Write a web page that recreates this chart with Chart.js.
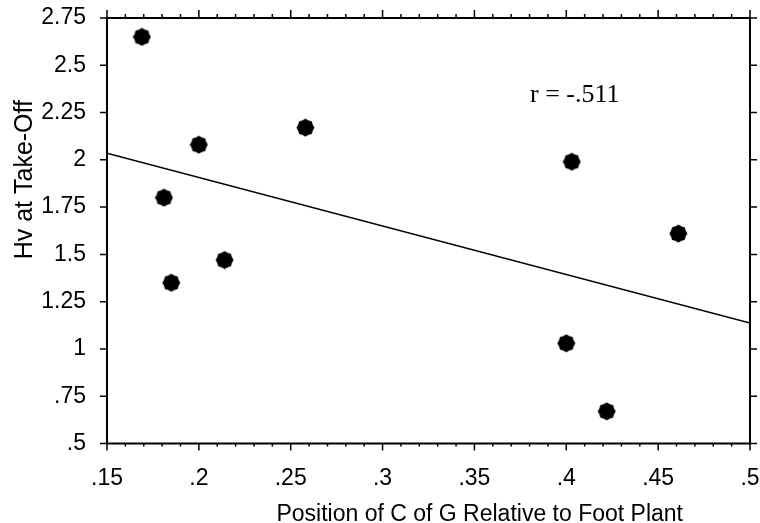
<!DOCTYPE html>
<html>
<head>
<meta charset="utf-8">
<script src="https://cdn.jsdelivr.net/npm/chart.js@4/dist/chart.umd.min.js"></script>
<style>
  html, body { margin: 0; padding: 0; background: #fff; }
  #wrap { width: 760px; height: 523px; }
</style>
</head>
<body>
<div id="wrap"><canvas id="chart" width="760" height="523"></canvas></div>
<script>
// position of C of G at foot plant vs horizontal velocity at take-off
var cogPosition = [.169, .181, .200, .258, .185, .214, .403, .461, .400, .422];
var hvTakeOff   = [2.65, 1.80, 2.08, 2.17, 1.35, 1.47, 1.99, 1.61, 1.03, .67];

// regression line end points
var fitX = [.15, .5];
var fitY = [2.035, 1.137];

var xTicks = [.15, .2, .25, .3, .35, .4, .45, .5];
var xTickLabels = ['.15', '.2', '.25', '.3', '.35', '.4', '.45', '.5'];
var yTicks = [.5, .75, 1, 1.25, 1.5, 1.75, 2, 2.25, 2.5, 2.75];
var yTickLabels = ['.5', '.75', '1', '1.25', '1.5', '1.75', '2', '2.25', '2.5', '2.75'];

var xTitle = 'Position of C of G Relative to Foot Plant';
var yTitle = 'Hv at Take-Off';
var rLabel = 'r = -.511';

const SANS = '"Liberation Sans", Arial, sans-serif';
const SERIF = '"Liberation Serif", "Times New Roman", serif';

// little cog shaped marker
function makeBlob() {
  var c = document.createElement('canvas');
  c.width = 19; c.height = 19;
  var g = c.getContext('2d');
  g.fillStyle = '#000';
  g.beginPath();
  for (var i = 0; i < 16; i++) {
    var a = i * Math.PI / 8;
    var r = i % 2 ? 7.9 : 9;
    var px = 9.5 + r * Math.cos(a), py = 9.5 + r * Math.sin(a);
    if (i === 0) g.moveTo(px, py); else g.lineTo(px, py);
  }
  g.closePath();
  g.fill();
  return c;
}

var points = cogPosition.map(function (x, i) { return { x: x, y: hvTakeOff[i] }; });
var fitLine = fitX.map(function (x, i) { return { x: x, y: fitY[i] }; });

// box, tick marks and text labels
var framePlugin = {
  id: 'frame',
  afterDraw: function (chart) {
    var ctx = chart.ctx, a = chart.chartArea;
    var xs = chart.scales.x, ys = chart.scales.y;
    ctx.save();
    ctx.strokeStyle = '#000';
    ctx.lineWidth = 2;
    ctx.strokeRect(a.left, a.top, a.right - a.left, a.bottom - a.top);

    ctx.lineWidth = 1.5;
    ctx.beginPath();
    for (var i = 0; i <= 35; i++) {
      var px = xs.getPixelForValue(.15 + i * .01);
      var major = i % 5 === 0;
      ctx.moveTo(px, a.top); ctx.lineTo(px, a.top - (major ? 8 : 4));
      ctx.moveTo(px, a.bottom); ctx.lineTo(px, a.bottom + (major ? 7 : 3));
    }
    yTicks.forEach(function (v) {
      var py = ys.getPixelForValue(v);
      ctx.moveTo(a.left, py); ctx.lineTo(a.left - 7, py);
      ctx.moveTo(a.right, py); ctx.lineTo(a.right + 7, py);
    });
    ctx.stroke();

    ctx.fillStyle = '#000';
    ctx.textBaseline = 'alphabetic';

    ctx.font = '23px ' + SANS;
    ctx.textAlign = 'right';
    ctx.fillText(xTitle, a.left + 576, 521);

    ctx.save();
    ctx.translate(32, a.top + 82);
    ctx.rotate(-Math.PI / 2);
    ctx.font = '25px ' + SANS;
    ctx.textAlign = 'right';
    ctx.fillText(yTitle, 0, 0);
    ctx.restore();

    ctx.font = '26px ' + SERIF;
    ctx.textAlign = 'left';
    ctx.fillText(rLabel, a.left + 423, a.top + 84);
    ctx.restore();
  }
};

new Chart(document.getElementById('chart'), {
  type: 'scatter',
  data: {
    datasets: [
      {
        data: fitLine,
        showLine: true,
        borderColor: '#000',
        borderWidth: 1.5,
        pointRadius: 0
      },
      {
        data: points,
        pointStyle: makeBlob(),
        pointRadius: 9
      }
    ]
  },
  options: {
    responsive: false,
    animation: false,
    layout: { padding: { top: 18, right: 7.5, left: 0, bottom: 0 } },
    plugins: { legend: { display: false }, tooltip: { enabled: false } },
    scales: {
      x: {
        type: 'linear',
        min: .15, max: .5,
        grid: { display: false, drawTicks: false },
        border: { display: false },
        afterBuildTicks: function (s) { s.ticks = xTicks.map(function (v) { return { value: v }; }); },
        afterFit: function (s) { s.height = 79.5; s.paddingLeft = 0; s.paddingRight = 0; },
        ticks: {
          padding: 21,
          maxRotation: 0,
          autoSkip: false,
          color: '#000',
          font: { family: SANS, size: 23 },
          callback: function (v, i) { return xTickLabels[i]; }
        }
      },
      y: {
        type: 'linear',
        min: .5, max: 2.75,
        grid: { display: false, drawTicks: false },
        border: { display: false },
        afterBuildTicks: function (s) { s.ticks = yTicks.map(function (v) { return { value: v }; }); },
        afterFit: function (s) { s.width = 107; s.paddingTop = 0; s.paddingBottom = 0; },
        ticks: {
          padding: 21,
          autoSkip: false,
          color: '#000',
          font: { family: SANS, size: 23 },
          callback: function (v, i) { return yTickLabels[i]; }
        }
      }
    }
  },
  plugins: [framePlugin]
});
</script>
</body>
</html>
